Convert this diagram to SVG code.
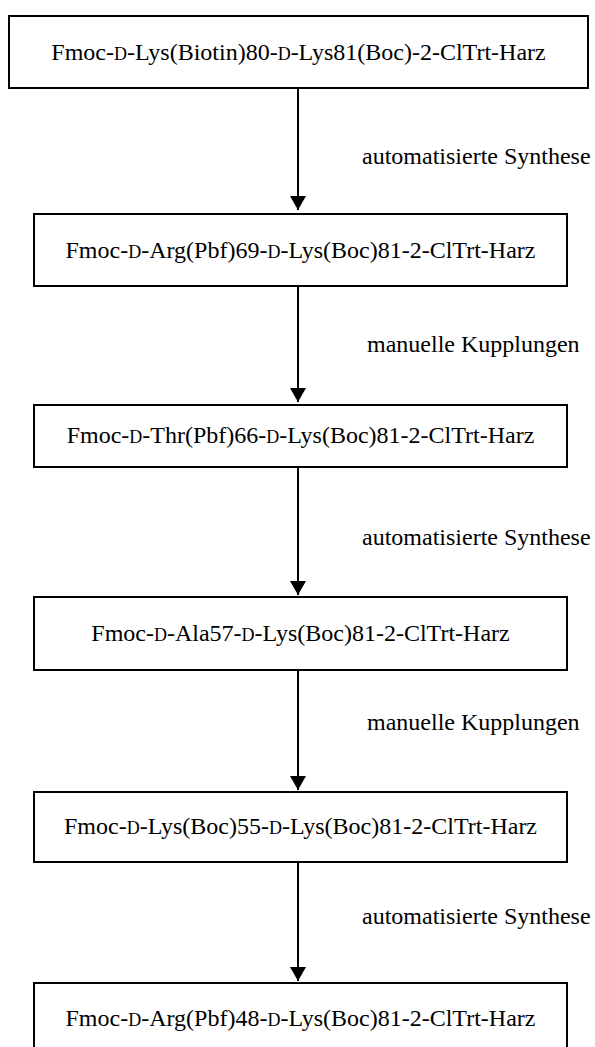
<svg xmlns="http://www.w3.org/2000/svg" width="595" height="1047" viewBox="0 0 595 1047">
<defs>
<marker id="ah" viewBox="0 0 14 16" refX="14" refY="8" markerWidth="14" markerHeight="16" markerUnits="userSpaceOnUse" orient="auto">
<path d="M0,0 L14,8 L0,16 Z" fill="#000"/>
</marker>
<style>
.box{fill:#fff;stroke:#000;stroke-width:2}
.t{font-family:"Liberation Serif","Times New Roman",serif;font-size:24px;fill:#000}
.c{text-anchor:middle}
.sc{font-size:18px}
.conn{stroke:#000;stroke-width:2;fill:none}
</style>
</defs>
<rect width="595" height="1047" fill="#fff"/>
<g id="connectors">
<line class="conn" x1="298" y1="88" x2="298" y2="210" marker-end="url(#ah)"/>
<line class="conn" x1="298" y1="286" x2="298" y2="402" marker-end="url(#ah)"/>
<line class="conn" x1="298" y1="467" x2="298" y2="595" marker-end="url(#ah)"/>
<line class="conn" x1="298" y1="670" x2="298" y2="790" marker-end="url(#ah)"/>
<line class="conn" x1="298" y1="862" x2="298" y2="981" marker-end="url(#ah)"/>
<text class="t" x="362" y="164">automatisierte Synthese</text>
<text class="t" x="367" y="352">manuelle Kupplungen</text>
<text class="t" x="362" y="545">automatisierte Synthese</text>
<text class="t" x="367" y="730">manuelle Kupplungen</text>
<text class="t" x="362" y="924">automatisierte Synthese</text>
</g>
<g id="n1">
<rect class="box" x="9" y="16" width="579" height="72"/>
<text class="t c" x="298.5" y="60">Fmoc-<tspan class="sc">D</tspan>-Lys(Biotin)80-<tspan class="sc">D</tspan>-Lys81(Boc)-2-ClTrt-Harz</text>
</g>
<g id="n2">
<rect class="box" x="34" y="214" width="533" height="72"/>
<text class="t c" x="300.5" y="258">Fmoc-<tspan class="sc">D</tspan>-Arg(Pbf)69-<tspan class="sc">D</tspan>-Lys(Boc)81-2-ClTrt-Harz</text>
</g>
<g id="n3">
<rect class="box" x="34" y="405" width="533" height="62"/>
<text class="t c" x="300.5" y="443">Fmoc-<tspan class="sc">D</tspan>-Thr(Pbf)66-<tspan class="sc">D</tspan>-Lys(Boc)81-2-ClTrt-Harz</text>
</g>
<g id="n4">
<rect class="box" x="34" y="597" width="533" height="73"/>
<text class="t c" x="300.5" y="641">Fmoc-<tspan class="sc">D</tspan>-Ala57-<tspan class="sc">D</tspan>-Lys(Boc)81-2-ClTrt-Harz</text>
</g>
<g id="n5">
<rect class="box" x="34" y="792" width="533" height="70"/>
<text class="t c" x="300.5" y="834">Fmoc-<tspan class="sc">D</tspan>-Lys(Boc)55-<tspan class="sc">D</tspan>-Lys(Boc)81-2-ClTrt-Harz</text>
</g>
<g id="n6">
<rect class="box" x="34" y="983" width="533" height="75"/>
<text class="t c" x="300.5" y="1026">Fmoc-<tspan class="sc">D</tspan>-Arg(Pbf)48-<tspan class="sc">D</tspan>-Lys(Boc)81-2-ClTrt-Harz</text>
</g>
</svg>
